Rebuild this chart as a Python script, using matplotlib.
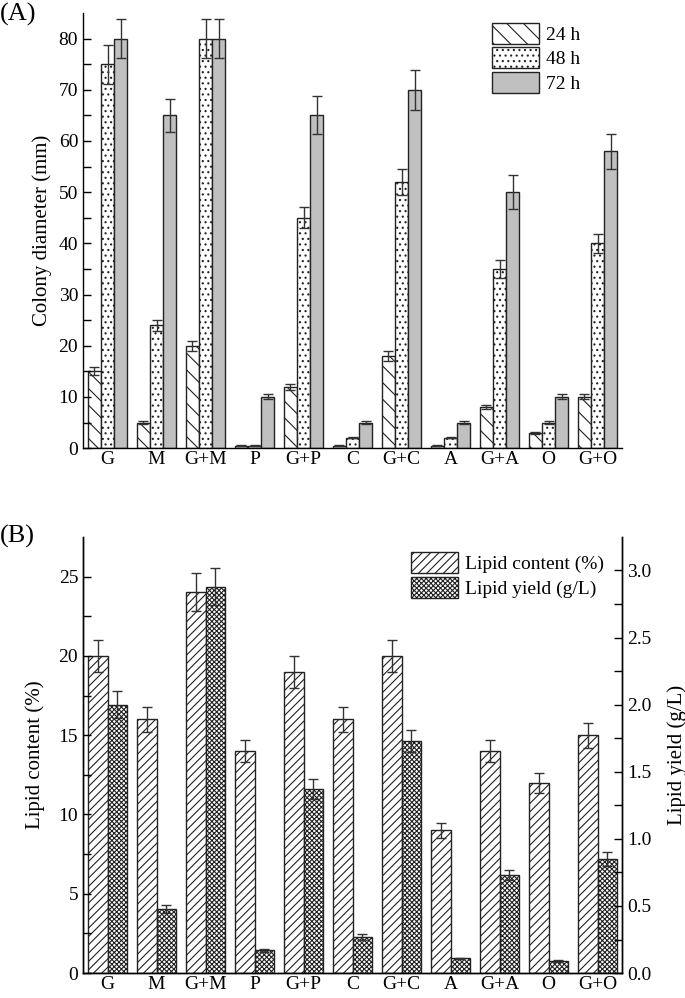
import numpy as np
import matplotlib
matplotlib.use("Agg")
import matplotlib.pyplot as plt

plt.rcParams['font.family'] = ['Liberation Serif', 'DejaVu Serif']
plt.rcParams['font.size'] = 14
plt.rcParams['hatch.linewidth'] = 0.8

# Data
groups = ['G', 'M', 'G+M', 'P', 'G+P', 'C', 'G+C', 'A', 'G+A', 'O', 'G+O']

d24 = [15, 5, 20, 0.5, 12, 0.5, 18, 0.5, 8, 3, 10]
d24_err = [0.8, 0.3, 1.0, 0.05, 0.6, 0.05, 0.9, 0.05, 0.4, 0.2, 0.5]
d48 = [75, 24, 80, 0.5, 45, 2, 52, 2, 35, 5, 40]
d48_err = [3.8, 1.1, 3.8, 0.05, 2.1, 0.1, 2.5, 0.1, 1.7, 0.3, 1.9]
d72 = [80, 65, 80, 10, 65, 5, 70, 5, 50, 10, 58]
d72_err = [3.8, 3.2, 3.8, 0.5, 3.7, 0.2, 3.9, 0.2, 3.3, 0.5, 3.4]

lipid_content = [20, 16, 24, 14, 19, 16, 20, 9, 14, 12, 15]
lipid_content_err = [1.0, 0.8, 1.2, 0.7, 1.0, 0.8, 1.0, 0.48, 0.72, 0.63, 0.78]
lipid_yield = [2.0, 0.48, 2.88, 0.17, 1.37, 0.27, 1.73, 0.11, 0.73, 0.09, 0.85]
lipid_yield_err = [0.1, 0.03, 0.14, 0.01, 0.075, 0.02, 0.08, 0.005, 0.04, 0.005, 0.05]

x = np.arange(len(groups))
err_kw = dict(ecolor='#333333', elinewidth=1.0, capsize=3.5, capthick=1.0)

fig = plt.figure(figsize=(6.85, 9.98), dpi=100)

# ---- (A) colony diameter ----
ax1 = fig.add_axes([0.1212, 0.551, 0.787, 0.436])
w = 0.27
ax1.bar(x - w, d24, w, yerr=d24_err, color='white', edgecolor='#222222',
        hatch='\\\\', linewidth=1.0, label='24 h', error_kw=err_kw)
ax1.bar(x, d48, w, yerr=d48_err, color='white', edgecolor='#222222',
        hatch='...', linewidth=1.0, label='48 h', error_kw=err_kw)
ax1.bar(x + w, d72, w, yerr=d72_err, color='#c0c0c0', edgecolor='#222222',
        linewidth=1.0, label='72 h', error_kw=err_kw)
ax1.set_xlim(-0.5, 10.5)
ax1.set_ylim(0, 85)
ax1.set_yticks(np.arange(0, 81, 10))
ax1.set_yticks(np.arange(5, 85, 10), minor=True)
ax1.set_xticks(x)
ax1.set_xticklabels(groups)
ax1.set_ylabel('Colony diameter (mm)', fontsize=15)
ax1.yaxis.set_label_coords(-0.058, 0.5)
ax1.spines['top'].set_visible(False)
ax1.spines['right'].set_visible(False)
ax1.tick_params(axis='y', which='both', direction='in', length=6, width=1)
ax1.tick_params(axis='x', length=0, pad=2)
ax1.legend(loc='upper left', bbox_to_anchor=(0.726, 1.018), frameon=False,
           handlelength=2.4, handleheight=1.3, labelspacing=0.17,
           handletextpad=0.4)
fig.text(0.0, 0.997, '(A)', fontsize=19, va='top')

# ---- (B) lipid content / yield ----
ax2 = fig.add_axes([0.1212, 0.025, 0.787, 0.437])
ax3 = ax2.twinx()
w2 = 0.4
ax2.bar(x - w2 / 2, lipid_content, w2, yerr=lipid_content_err, color='white',
        edgecolor='#222222', hatch='////', linewidth=1.0,
        label='Lipid content (%)', error_kw=err_kw)
ax3.bar(x + w2 / 2, lipid_yield, w2, yerr=lipid_yield_err, color='white',
        edgecolor='#222222', hatch='xxxxxxx', linewidth=1.0,
        label='Lipid yield (g/L)', error_kw=err_kw)
ax2.set_xlim(-0.5, 10.5)
ax2.set_ylim(0, 27.5)
ax3.set_ylim(0, 3.25)
ax2.set_yticks(np.arange(0, 26, 5))
ax2.set_yticks(np.arange(2.5, 27.5, 5), minor=True)
ax3.set_yticks(np.arange(0, 3.01, 0.5))
ax3.set_yticks(np.arange(0.25, 3.25, 0.5), minor=True)
ax3.set_yticklabels(['%.1f' % v for v in np.arange(0, 3.01, 0.5)])
ax2.set_xticks(x)
ax2.set_xticklabels(groups)
ax2.set_ylabel('Lipid content (%)', fontsize=15)
ax3.set_ylabel('Lipid yield (g/L)', fontsize=15)
ax2.yaxis.set_label_coords(-0.0705, 0.5)
ax3.yaxis.set_label_coords(1.083, 0.5)
for a in (ax2, ax3):
    a.spines['top'].set_visible(False)
    a.tick_params(axis='y', which='both', direction='in', length=6, width=1)
ax2.tick_params(axis='x', length=0, pad=2)
h1, l1 = ax2.get_legend_handles_labels()
h2, l2 = ax3.get_legend_handles_labels()
ax3.legend(h1 + h2, l1 + l2, loc='upper left', bbox_to_anchor=(0.576, 1.005),
           frameon=False, handlelength=2.4, handleheight=1.3,
           labelspacing=0.17, handletextpad=0.4)
fig.text(0.0, 0.474, '(B)', fontsize=19, va='top')

for a in (ax1, ax2, ax3):
    for s in a.spines.values():
        s.set_linewidth(1.0)

fig.savefig('out.png', dpi=100)
